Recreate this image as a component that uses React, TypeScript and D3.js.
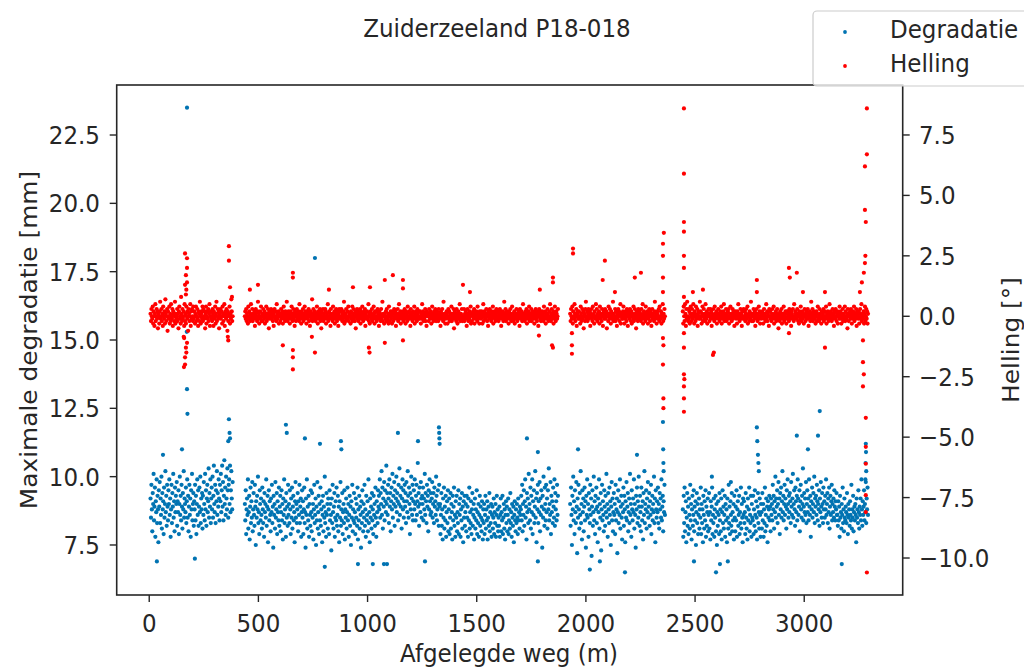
import React from 'react';
import * as d3 from 'd3';

// ---- data (distance step 2 m within each measured segment) ----
const STEP = 2;
const segmentStart = [6, 438, 1928, 2444];

// Maximale degradatie, in 0.1 mm
const degradatie1 = [
92,85,97,88,80,94,90,101,84,89,96,78,91,87,99,83,93,88,76,95,
89,98,83,92,86,100,81,94,88,91,79,96,85,90,102,87,93,82,97,89,
84,95,90,99,86,92,78,88,97,83,94,89,101,85,91,80,96,87,93,90,
98,82,91,87,95,79,90,100,86,93,84,97,89,81,94,88,102,85,92,90,
87,96,83,91,99,85,93,80,89,97,86,92,78,95,88,101,84,90,94,82,
91,88,97,84,93,79,90,99,86,95,82,89,96,87,100,83,92,88,94,81,
93,86,98,90,84,101,88,95,82,92,97,87,91,103,85,94,89,99,83,92,
96,88,100,85,93,104,90,87,97,83,95,91,102,86,94,89,99,92,84,97,
91,101,87,95,104,89,98,84,93,106,90,96,86,100,92,88,103,95,85,97,
99,90,104,87,95,102,92,88,98];
const degradatie2 = [
90,84,95,79,88,92,86,99,81,87,93,77,89,96,83,91,85,98,80,88,
94,86,82,97,89,75,91,85,93,88,100,83,87,79,95,90,84,92,86,81,
96,88,83,91,78,94,87,90,85,99,82,89,93,76,88,95,84,91,86,80,
92,87,97,83,89,74,93,86,90,81,98,85,88,94,79,91,87,84,96,82,
89,93,80,87,95,84,90,77,92,86,99,83,88,91,78,94,85,89,82,97,
86,90,83,95,88,79,92,85,96,81,89,93,84,87,76,91,98,85,90,83,
88,94,80,91,86,97,83,89,92,78,87,95,
85,91,79,88,96,83,87,74,92,86,99,81,89,84,93,78,90,86,82,95,
87,80,94,85,90,77,88,97,83,86,92,75,89,84,98,81,87,93,79,90,
84,96,82,88,91,76,86,93,80,89,85,100,83,87,78,94,86,90,81,92,
88,79,95,84,90,86,73,92,83,97,87,81,89,94,78,85,91,84,96,82,
86,93,80,89,76,91,85,98,82,88,84,94,79,87,90,83,95,77,88,85,
92,81,87,96,84,90,78,86,93,82,89,75,91,85,97,80,88,84,94,83,
87,79,92,85,90,82,96,77,88,84,93,81,89,86,74,91,83,95,87,80,
90,85,97,82,88,78,93,84,86,91,80,99,83,87,76,92,85,89,81,94,
84,88,79,93,86,90,82,96,85,78,91,87,83,95,89,
93,88,99,85,94,90,102,86,96,81,92,89,98,84,95,91,87,104,90,94,
86,97,92,83,99,89,94,80,91,96,88,101,85,93,90,98,82,95,89,92,
100,87,94,91,84,97,90,103,86,93,89,96,81,92,99,88,95,85,91,97,
89,94,83,98,91,87,102,93,85,96,90,79,94,88,100,92,86,97,84,91,
95,88,99,90,84,93,97,86,91,105,89,94,82,96,90,87,98,92,85,93,
90,96,84,92,88,101,86,94,91,83,97,89,93,80,95,88,99,91,86,94,
87,92,98,85,90,94,83,96,89,91,86,100,93,84,88,95,90,82,97,89,
90,79,86,94,82,88,77,92,85,96,81,89,84,93,78,87,91,83,95,80,
88,92,79,85,94,81,90,87,77,93,84,89,96,82,86,78,91,85,93,80,
87,83,95,79,90,86,92,78,88,84,94,81,89,76,91,85,93,82,87,90,
80,93,85,89,78,92,84,96,81,87,83,91,79,88,94,82,86,90,77,85,
92,81,88,84,95,79,87,83,90,78,86,93,82,89,85,80,91,84,77,88,
83,90,79,86,93,81,88,84,91,77,85,89,82,94,80,87,83,90,78,86,
89,81,85,92,79,87,83,90,78,86,93,82,88,80,85,
82,89,78,86,92,80,87,84,93,79,85,90,81,88,77,86,91,83,89,80,
86,92,79,84,88,81,94,83,87,78,90,85,82,89,76,86,91,84,80,88,
83,90,85,79,92,84,87,81,89,86,
88,93,84,97,80,90,86,95,82,91,99,85,89,77,94,87,92,83,101,88,
90,84,96,81,93,87,99,79,91,86,95,83,89,102,85,92,76,94,88,97,
83,91,87,98,80,92,86,95,89,74,93,85,100,88,82,96,90,84,97,87,
92,81,95,88,103,84,90,86,98,79,93,87,91,83,96,89,85,99,82,94,
88,91,84,97,86,93];
const degradatie3 = [
90,82,96,86,75,93,88,100,84,91,79,95,87,83,98,89,72,92,85,97,
88,81,94,86,102,83,90,77,95,87,92,80,89,96,84,91,74,93,86,99,
85,90,78,94,88,83,97,86,92,71,89,95,82,87,100,84,91,79,93,88,
96,83,89,76,92,87,99,81,90,85,94,73,88,97,84,91,86,80,95,89,
82,93,87,101,85,90,78,94,88,83,96,86,91,75,89,98,84,92,80,87,
94,86,90,79,97,84,88,92,72,87,95,83,91,86,99,81,89,93,85,77,
90,87,96,82,93,88,76,91,85,98,84,89,94,80,87,92,83,101,86,90,
78,95,88,84,92,87,99,81,90,86,74,93,88,96,83,91,85,100,89,82,
93,87,80,96,89,84,91,77,94,86,102,83,90,88,95,81,92,87,98,85,
89,94,82,91,86,97,79,88,93,84,90,87,100,83,92,76,95,88,85,91,
87,96,83,90,81,94,88,92,85,99,84,89,93,80,91,87,97,86];
const degradatie4 = [
88,78,93,83,96,80,87,91,76,85,94,82,89,79,92,86,81,97,84,90,
77,88,93,82,86,95,80,89,84,91,75,87,94,83,90,79,86,92,81,88,
85,96,79,90,83,88,76,93,86,81,91,84,95,78,89,82,87,92,80,86,
94,81,87,77,91,84,89,96,79,86,83,92,78,88,85,93,80,90,75,87,
82,91,86,79,94,84,88,80,92,77,87,95,83,89,81,86,93,78,90,84,
88,76,92,85,81,97,83,89,79,91,86,82,94,80,87,84,90,77,93,85,
80,89,84,95,78,88,91,82,86,93,79,87,83,96,81,90,85,76,92,86,
91,83,87,79,94,85,81,89,77,92,84,88,96,80,86,83,93,78,90,85,
84,93,79,88,82,95,86,80,91,85,77,89,94,83,87,81,92,86,78,90,
87,81,94,84,90,78,88,83,96,80,86,92,82,89,76,91,85,88,93,84,
89,80,92,86,
90,84,97,88,93,81,91,87,100,85,92,89,95,83,90,98,86,92,79,94,
88,96,85,91,102,87,93,84,90,97,86,92,89,81,95,88,99,90,85,93,
87,94,91,83,98,89,86,92,101,85,90,95,88,82,96,91,87,93,84,99,
92,86,89,95,80,91,97,88,85,93,90,103,84,89,94,87,92,86,98,83,
90,95,87,92,84,99,89,86,93,78,91,88,96,85,90,94,87,100,83,92,
89,93,86,97,91,84,90,88,95,82,92,87,98,89,85,94,90,83,96,88,
91,85,93,88,99,86,90,94,83,92,87,96,81,89,93,86,91,97,84,90,
87,92,85,95,89,84,91,88,94,86,
86,82,91,84,89,78,93,85,87,81,90,86,96,83,88,80,92,85,84,89,
87,83,94,86,79,90,85,88,82,91,86,84,97,81,88,85,93,80,87,89,
84,90,86,76,92,85,88,83,95,87,81,89,86,92,84,99,88,82,91,86,
89,95,84,90,87,98,83,92,88,96,86];

// Helling, in 0.1 degree
const helling1 = [
1,-2,3,0,-1,4,-3,2,0,-4,1,5,-2,0,3,-1,2,-5,1,0,
-3,2,6,-1,0,3,-2,1,-4,4,0,-1,2,-3,7,1,-2,0,3,-6,
2,-1,0,4,-3,1,-2,5,0,-1,3,-4,2,1,-2,0,6,-3,1,-1,
0,3,-2,1,-5,2,4,-1,0,-3,8,1,-2,3,-1,0,2,-4,5,-2,
1,-3,4,0,-1,2,-6,3,1,-2,0,5,-4,2,-1,3,0,-2,4,-1,
2,0,-3,1,4,-2,0,3,-1,-4,2,1,-2,6,0,-3,1,2,-1,4,
-2,3,0,-1,2,-5,1,4,-3,0,2,-1,3,-2,1,5,-4,0,2,-1,
0,-2,3,1,-4,2,0,-1,4,-3,1,6,-2,0,3,-1,2,-5,1,0,
3,-1,0,2,-3,4,1,-2,0,5,-4,1,2,-1,3,0,-6,2,-2,1,
0,4,-3,1,-1,7,2,-2,0];
const helling2 = [
0,2,-1,3,-2,1,0,-3,4,-1,2,0,-2,1,5,-1,0,3,-2,1,
-1,0,2,-4,1,3,-1,0,-2,2,6,-1,1,-3,0,2,-1,4,-2,0,
1,-2,3,0,-1,2,-3,1,0,4,-2,1,-1,3,0,-5,2,-1,1,0,
3,-1,0,2,-2,1,-4,0,3,-1,2,0,-2,5,1,-1,0,2,-3,1,
0,-2,1,3,-1,0,2,-3,1,4,-1,0,-2,2,1,-1,6,0,-2,1,
2,-1,0,-3,1,2,-1,4,0,-2,1,3,-1,0,-4,2,1,-2,0,3,
-1,1,0,2,-2,5,-1,0,1,-3,2,0,-1,3,-2,1,0,4,-1,2,
0,-3,1,2,-1,0,3,-2,1,-4,0,2,-1,1,7,-2,0,3,-1,1,
2,0,-2,1,-1,4,0,-3,2,1,-1,0,3,-2,1,-5,2,0,-1,3,
-2,1,0,-1,3,2,-3,0,1,-1,5,-2,0,2,-1,1,-4,3,0,-1,
1,-2,4,0,-1,2,-3,1,0,3,-1,-2,2,0,-4,1,3,-1,0,2,
-1,3,0,-2,1,-1,2,6,-3,0,1,-2,3,-1,0,2,-1,4,-2,1,
0,1,-3,2,-1,0,4,-2,1,3,-1,0,-2,2,-5,1,0,3,-1,2,
-2,0,1,-1,3,-3,2,0,-1,4,1,-2,0,2,-1,3,-4,1,0,-1,
2,-1,0,5,-2,1,-3,0,2,-1,1,3,-2,0,-1,4,1,-3,2,0,
-1,2,-2,0,3,1,-1,-4,2,0,1,-2,3,-1,0,6,-2,1,0,-3,
1,0,-1,2,-2,3,0,-1,1,-3,4,0,-2,1,2,-1,0,-3,2,1,
-2,1,3,-1,0,2,-4,1,0,-1,3,-2,1,5,0,-1,2,-3,1,0,
0,-1,2,-2,1,0,3,-1,-3,2,0,1,-2,4,-1,0,2,-1,1,-4,
3,0,-1,1,-2,2,0,-1,4,-3,1,0,2,-1,-2,3,1,0,-1,2,
-1,2,0,-3,1,-1,5,0,2,-2,1,-1,0,3,-2,1,-4,2,0,1,
0,-2,3,1,-1,0,2,-3,1,4,-1,0,-2,1,2,-1,3,0,-2,1,
2,-1,0,-2,3,1,-1,0,-4,2,1,-1,3,0,-2,6,-1,1,0,-3,
-1,0,2,1,-3,0,3,-1,2,-2,0,1,-1,4,-2,1,0,-1,3,-5,
1,2,-1,0,-2,3,1,-3,0,2,-1,1,5,-2,0,1,-1,3,-2,0,
0,-1,3,-2,1,0,2,-1,-4,1,3,0,-2,1,-1,2,0,4,-3,1,
-2,1,0,2,-1,3,-3,0,1,-1,2,0,-2,4,1,-1,0,-3,2,1,
1,-1,2,0,-3,1,5,-2,0,2,-1,1,-1,3,0,-2,1,-4,2,0,
-1,3,0,1,-2,2,-1,0,4,-3,1,0,2,-1,-2,1,3,0,-1,2,
0,-2,1,-1,3,0,2,-4,1,-1,0,2,-2,1,6,-1,0,3,-2,1,
2,0,-1,1,-3,2,0,-1,3,1,-2,0,4,-1,1,-2,0,2,-3,1,
-1,1,3,0,-2,1,-1,2,0,-4,3,1,-1,0,2,-2,1,5,-1,0,
1,-2,0,2,-1,3,-3,1,0,-1,2,4,-2,0,1,-1,3,-2,0,2,
0,1,-1,-3,2,0,3,-1,1,-2,0,2,-4,1,3,0,-1,2,-2,1,
-1,2,0,1,-2,4,-1,0,2,-3,1,0,-1,3,1,-2,0,2,-1,5,
0,-2,1,3,-1,0,2,-3,1,-1,4,0,-2,2,1,-1,0,3];
const helling3 = [
1,-2,3,0,-1,4,-3,2,0,-1,5,1,-2,0,3,-4,1,2,-1,0,
2,-1,0,-3,4,1,-2,0,3,-1,2,-5,0,1,-2,3,6,-1,0,2,
-2,1,3,-1,0,2,-4,1,0,3,-1,-2,4,0,1,-3,2,0,-1,5,
0,3,-2,1,-1,0,2,-3,4,1,-1,0,-2,3,1,-4,0,2,-1,1,
3,-1,0,2,-5,1,0,-2,4,1,-1,3,0,-3,2,-1,1,0,6,-2,
1,0,-1,3,-2,2,0,-4,1,-1,3,0,2,-2,1,5,-3,0,1,-1,
-1,2,4,0,-3,1,-1,2,0,-2,3,1,-4,0,2,-1,1,3,0,-2,
2,-3,0,1,-1,4,-2,0,3,1,-1,-5,2,0,1,-2,3,-1,0,2,
0,1,-2,3,-1,0,5,-3,1,2,-1,0,-2,4,1,-1,0,2,-3,1,
-1,3,0,-2,2,1,-4,0,3,-1,1,0,-2,2,6,-1,0,1,-3,2,
1,-1,0,3,-2,4,0,-1,2,-3,1,0,5,-2,1,-1,3,0];
const helling4 = [
2,-3,4,0,-2,5,1,-4,3,-1,6,0,-2,3,-1,2,-3,1,4,0,
-2,3,1,-1,5,0,-3,2,1,-2,4,-1,0,3,-4,1,2,-1,0,6,
-1,2,0,-3,1,4,-2,0,3,-1,1,-2,5,0,-1,2,-3,1,0,3,
1,-2,0,3,-1,2,-4,1,0,-1,3,0,-2,4,1,-1,0,2,-3,1,
0,3,-1,1,-2,0,2,-1,4,-3,1,0,-1,2,5,-2,0,1,-1,3,
-2,1,0,2,-1,3,-3,0,1,4,-1,0,-2,1,3,-1,2,0,-4,1,
2,0,-1,1,-3,2,0,5,-1,1,-2,0,3,-1,1,-4,2,0,-1,3,
0,-1,2,-2,1,3,0,-1,4,-3,0,1,-2,2,0,-1,6,1,-2,0,
1,-2,3,0,-1,2,-4,1,0,3,-1,-2,1,0,4,-1,2,-3,0,1,
-1,0,2,1,-3,0,3,-1,1,-2,0,5,-1,2,-2,1,0,-4,3,0,
2,-1,0,-2,1,3,-1,0,4,-3,1,0,-1,2,-2,1,3,0,-1,-5,
0,1,-2,2,-1,0,3,-3,1,0,-1,4,-2,1,0,2,-1,-3,1,2,
-1,2,0,-2,3,1,-1,0,-4,2,1,-1,3,0,-2,5,0,-1,2,1,
1,-1,3,0,-2,1,-3,2,0,-1,4,1,-2,0,2,-1,1,-3,0,3,
0,-2,1,2,-1,0,3,-1,-4,1,0,2,-2,1,6,-1,0,3,-2,1,
2,0,-1,1,-3,0,2,-2,1,4,-1,0,-2,3,1,-1,0,-3,2,0,
-1,1,3,-2,0,2,-1,0,4,-3,1,-1,2,0,-2,1,5,-1,0,2,
1,-2,0,3,-1,1,-4,2,0,-1,3,0,-2,1,2,-3,0,1,-1,4,
0,2,-1,-3,1,0,3,-2,1,-1,0,4,-2,2,0,-1,1,-5,3,0,
-2,1,0,2,-1,3,0,-3,1,-1,2,0,4,-2,1,0,-1,3,-4,2,
1,0,-1,2,-3,1,3,-1,0,5,-2,1,0,-1,2,-3,1,4,-2,0,
3,-1,2,-3,1];

// isolated readings (m, mm)
const degExtraX = [173,172,173,175,150,63,35,209,365,368,362,370,626,630,713,782,878,880,804,956,1024,1089,759,1139,1231,1327,1328,1329,1330,1730,1780,1075,1263,1780,1964,2234,2353,2354,2018,2179,2064,2355,2356,2577,2664,2783,2785,2788,2790,2792,2495,2596,2650,2614,3017,3063,3071,2966,3172,3282,3283,3281,3284,3280];
const degExtraY = [23.5,15.3,13.2,12.3,11.0,10.8,6.9,7.0,12.1,11.6,11.3,11.4,11.9,11.6,11.4,11.2,11.3,11.0,6.7,6.8,6.8,6.8,18.0,11.6,11.3,11.8,11.6,11.4,11.2,11.4,10.9,6.8,6.9,6.9,11.0,10.8,12.0,11.0,6.6,6.5,6.9,10.5,10.2,10.0,9.8,11.8,11.3,10.8,10.5,10.2,6.9,6.5,6.9,6.8,11.0,11.5,12.4,11.5,6.8,11.2,10.9,10.5,10.2,9.9];
// isolated readings (m, degree)
const helExtraX = [164,173,173,168,173,164,170,168,173,168,170,164,164,159,160,158,365,365,370,379,360,362,
461,498,658,658,658,658,658,759,612,745,823,933,1011,1079,1116,1006,1009,1079,1162,1162,1162,1437,1469,1789,1849,1849,1785,1849,1845,
1941,1941,1936,1936,1936,2087,2077,2224,2252,2133,
2357,2353,2353,2353,2353,2353,2355,2353,2355,2355,
2449,2449,2449,2449,2449,2449,2449,2449,2449,2449,2449,2449,2449,2451,
2490,2536,2582,2586,2783,2783,2930,2934,2966,2994,3095,3095,2930,
3287,3287,3278,3278,3282,3278,3273,3264,3255,3269,3269,3273,3269,3282,3282,3282,3282,3282,3287,3280];
const helExtraY = [2.6,2.4,2.0,1.7,1.4,1.3,1.1,0.9,-1.1,-1.3,-1.5,-1.7,-2.0,-2.1,-0.9,-0.85,2.9,2.3,1.2,0.8,-0.85,-1.0,
1.1,1.3,1.8,1.6,-1.4,-1.7,-2.2,-1.5,-1.2,-0.85,1.1,1.2,1.2,1.5,1.7,-1.3,-1.5,-1.1,1.5,1.15,-1.0,1.3,1.0,1.1,1.6,1.4,-0.8,-1.3,-1.2,
2.8,2.6,-0.7,-1.2,-1.55,2.3,1.5,1.6,1.8,1.0,
3.45,3.0,2.5,1.6,1.0,-0.9,-1.2,-2.0,-3.4,-3.8,
8.6,5.9,3.9,3.5,2.5,2.0,0.8,-0.7,-1.3,-2.4,-2.9,-3.4,-3.95,-2.6,
1.0,1.1,-1.6,-1.5,1.5,1.0,2.0,1.6,1.8,1.0,1.0,-1.3,-0.7,
8.6,6.7,6.2,4.4,3.9,2.2,1.8,1.4,1.0,-1.0,-1.9,-2.4,-2.9,-4.2,-5.4,-6.1,-7.4,-8.1,-10.6,2.5];

const xTicks = [0, 500, 1000, 1500, 2000, 2500, 3000];
const leftTicks = [7.5, 10, 12.5, 15, 17.5, 20, 22.5];
const rightTicks = [-10, -7.5, -5, -2.5, 0, 2.5, 5, 7.5];

const BLUE = '#0173b2';
const RED = '#ff0000';
const INK = '#262626';
const FONT = 'DejaVu Sans';
const FS = 23;
const SY = 1.08;
const DOT = 2.1;

function Label({ x, y, anchor = 'start', rotate = 0, children }: any) {
  return (
    <g transform={`translate(${x},${y}) scale(1,${SY})${rotate ? ` rotate(${rotate})` : ''}`}>
      <text textAnchor={anchor} fontFamily={FONT} fontSize={FS} fill={INK}>{children}</text>
    </g>
  );
}

export default function App() {
  const L = 116.7, R = 902.7, T = 85, B = 595;
  const x = d3.scaleLinear().domain([-149, 3451]).range([L, R]);
  const yL = d3.scaleLinear().domain([5.67, 24.33]).range([B, T]);
  const yR = d3.scaleLinear().domain([-11.53, 9.567]).range([B, T]);
  const fmt = d3.format('.1f');

  const degSegs = [degradatie1, degradatie2, degradatie3, degradatie4];
  const helSegs = [helling1, helling2, helling3, helling4];
  const deg: [number, number][] = [];
  const hel: [number, number][] = [];
  degSegs.forEach((arr, s) => arr.forEach((v, i) => deg.push([segmentStart[s] + i * STEP, v / 10])));
  helSegs.forEach((arr, s) => arr.forEach((v, i) => hel.push([segmentStart[s] + i * STEP, v / 10])));
  degExtraX.forEach((d, i) => deg.push([d, degExtraY[i]]));
  helExtraX.forEach((d, i) => hel.push([d, helExtraY[i]]));

  const capHalf = (0.729 * FS * SY) / 2;

  return (
    <svg width={1024} height={670} style={{ position: 'absolute', left: 0, top: 0, background: '#fff' }}>
      <rect x={0} y={0} width={1024} height={670} fill="#fff" />
      <Label x={497} y={37} anchor="middle">Zuiderzeeland P18-018</Label>

      <g>
        {deg.map((p, i) => (
          <circle key={'d' + i} cx={x(p[0])} cy={yL(p[1])} r={DOT} fill={BLUE} />
        ))}
      </g>
      <g>
        {hel.map((p, i) => (
          <circle key={'h' + i} cx={x(p[0])} cy={yR(p[1])} r={DOT} fill={RED} />
        ))}
      </g>

      <rect x={L} y={T} width={R - L} height={B - T} fill="none" stroke={INK} strokeWidth={1.6} />

      {xTicks.map((t) => (
        <g key={'x' + t}>
          <line x1={x(t)} x2={x(t)} y1={B} y2={B + 7} stroke={INK} strokeWidth={1.4} />
          <Label x={x(t)} y={632} anchor="middle">{String(t)}</Label>
        </g>
      ))}
      {leftTicks.map((t) => (
        <g key={'l' + t}>
          <line x1={L - 7} x2={L} y1={yL(t)} y2={yL(t)} stroke={INK} strokeWidth={1.4} />
          <Label x={100} y={yL(t) + capHalf} anchor="end">{fmt(t)}</Label>
        </g>
      ))}
      {rightTicks.map((t) => (
        <g key={'r' + t}>
          <line x1={R} x2={R + 7} y1={yR(t)} y2={yR(t)} stroke={INK} strokeWidth={1.4} />
          <Label x={919} y={yR(t) + capHalf} anchor="start">{fmt(t)}</Label>
        </g>
      ))}

      <Label x={509} y={662} anchor="middle">Afgelegde weg (m)</Label>
      <Label x={37} y={340} anchor="middle" rotate={-90}>Maximale degradatie [mm]</Label>
      <Label x={1019} y={340} anchor="middle" rotate={-90}>Helling [°]</Label>

      <g>
        <rect x={813} y={11} width={230} height={75} rx={4} fill="#fff" fillOpacity={0.8} stroke="#cccccc" strokeWidth={1.2} />
        <circle cx={845} cy={32} r={1.9} fill={BLUE} />
        <circle cx={845} cy={66} r={1.9} fill={RED} />
        <Label x={890} y={38} anchor="start">Degradatie</Label>
        <Label x={890} y={72} anchor="start">Helling</Label>
      </g>
    </svg>
  );
}
